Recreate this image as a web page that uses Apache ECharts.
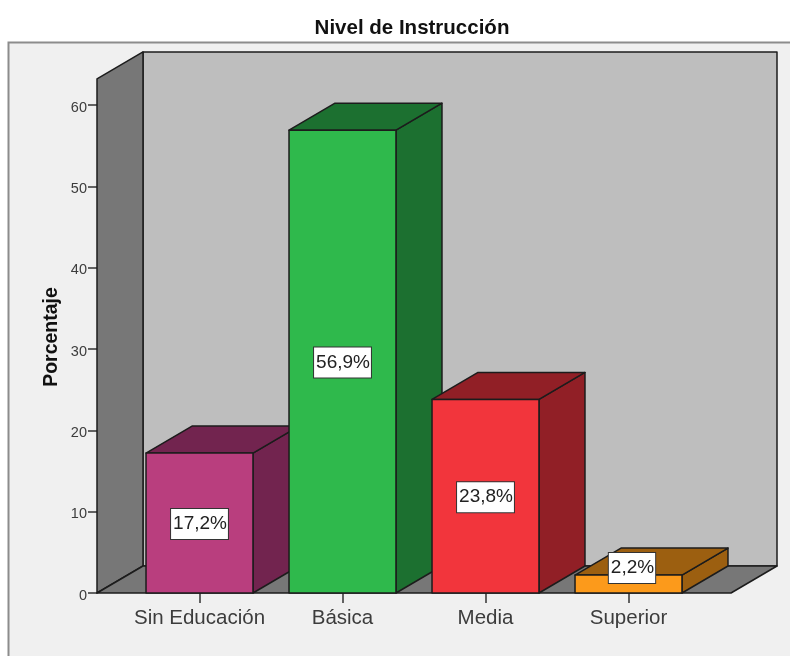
<!DOCTYPE html>
<html>
<head>
<meta charset="utf-8">
<style>html,body{margin:0;padding:0;background:#fff}#c{width:790px;height:656px}</style>
<script src="https://cdn.jsdelivr.net/npm/echarts@6/dist/echarts.min.js"></script>
</head>
<body>
<div id="c"></div>
<script>
const categories = ['Sin Educación', 'Básica', 'Media', 'Superior'];
const values = [17.2, 56.9, 23.8, 2.2];
const valueLabels = ['17,2%', '56,9%', '23,8%', '2,2%'];
const frontColors = ['#B93E7E', '#2FB94C', '#F2353C', '#FC9A1B'];
const sideColors = ['#72244F', '#1C7030', '#911F26', '#9C5F10'];
const yTicks = [0, 10, 20, 30, 40, 50, 60];
const wallTopValue = 63.2;

const DX = 46, DY = -27, EDGE = '#1c1c1c', PAD = 31;

function poly(points, fill, z2) {
  return { type: 'polygon', z2: z2 || 0, shape: { points },
    style: { fill, stroke: EDGE, lineWidth: 1.5, lineJoin: 'round' } };
}

const chart = echarts.init(document.getElementById('c'), null, { renderer: 'canvas' });
chart.setOption({
  animation: false,
  backgroundColor: '#ffffff',
  graphic: [{
    type: 'rect', z: -10, silent: true,
    shape: { x: 8.5, y: 42.5, width: 800, height: 700 },
    style: { fill: '#F0F0F0', stroke: '#8c8c8c', lineWidth: 2 }
  }],
  title: {
    text: 'Nivel de Instrucción', left: 407, top: 13, textAlign: 'center',
    textStyle: { fontFamily: 'Liberation Sans', fontSize: 20.5, fontWeight: 'bold', color: '#111' }
  },
  grid: { left: 128, width: 572, top: 105, height: 488 },
  xAxis: {
    type: 'category', data: categories,
    axisLine: { show: false },
    axisTick: { show: true, alignWithLabel: true, length: 10, lineStyle: { color: '#333', width: 1.5 } },
    axisLabel: { interval: 0, fontFamily: 'Liberation Sans', fontSize: 20.5, color: '#3c3c3c', margin: 15 }
  },
  yAxis: {
    type: 'value', min: 0, max: 60, interval: 10, offset: PAD,
    name: 'Porcentaje', nameLocation: 'middle', nameGap: 35, nameRotate: 90, nameMoveOverlap: false,
    nameTextStyle: { fontFamily: 'Liberation Sans', fontSize: 19.5, fontWeight: 'bold', color: '#111', padding: [0, 0, 0, 24] },
    splitLine: { show: false },
    axisLine: { show: false },
    axisTick: { show: true, length: 9, lineStyle: { color: '#333', width: 1.5 } },
    axisLabel: { fontFamily: 'Liberation Sans', fontSize: 14.5, color: '#3c3c3c', margin: 10, verticalAlign: 'top', lineHeight: 5,
      formatter: v => yTicks.includes(v) ? String(v) : '' }
  },
  series: [
    {
      type: 'custom', z: 1, silent: true, data: [[0, wallTopValue]],
      renderItem(params, api) {
        const cs = params.coordSys;
        const y0 = api.coord([0, 0])[1];
        const yT = api.coord([0, api.value(1)])[1];
        const xL = cs.x - PAD, xR = cs.x + cs.width + PAD;
        return { type: 'group', children: [
          poly([[xL + DX, yT + DY], [xR + DX, yT + DY], [xR + DX, y0 + DY], [xL + DX, y0 + DY]], '#BEBEBE'),
          poly([[xL, yT], [xL + DX, yT + DY], [xL + DX, y0 + DY], [xL, y0]], '#777777'),
          poly([[xL, y0], [xL + DX, y0 + DY], [xR + DX, y0 + DY], [xR, y0]], '#777777')
        ] };
      }
    },
    {
      type: 'custom', z: 3, silent: true,
      data: values.map((v, i) => [i, v]),
      encode: { x: 0, y: 1 },
      renderItem(params, api) {
        const i = api.value(0), v = api.value(1);
        const c = api.coord([i, v]);
        const y0 = api.coord([i, 0])[1];
        const w = api.size([1, 0])[0] * 0.748;
        const l = c[0] - w / 2, r = l + w, t = c[1];
        const small = (y0 - t) < 30;
        const lx = small ? c[0] + 3.5 : c[0];
        const ly = small ? y0 - 25 : (t + y0) / 2 + 1;
        return { type: 'group', children: [
          poly([[r, y0], [r + DX, y0 + DY], [r + DX, t + DY], [r, t]], sideColors[i], 1),
          poly([[l, t], [l + DX, t + DY], [r + DX, t + DY], [r, t]], sideColors[i], 1),
          poly([[l, y0], [l, t], [r, t], [r, y0]], frontColors[i], 2),
          { type: 'text', z2: 5, x: lx, y: ly,
            style: { text: valueLabels[i], align: 'center', verticalAlign: 'middle',
              fontFamily: 'Liberation Sans', fontSize: 19, fill: '#222',
              backgroundColor: '#fff', borderColor: '#333', borderWidth: 1,
              padding: [6, 1, 5, 2] } }
        ] };
      }
    }
  ]
});
</script>
</body>
</html>
